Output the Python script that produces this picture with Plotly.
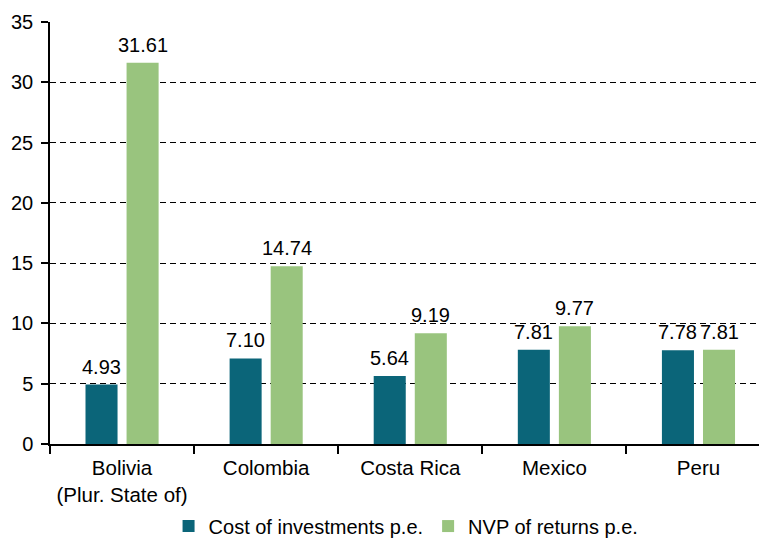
import plotly.graph_objects as go

countries = ["Bolivia<br>(Plur. State of)", "Colombia", "Costa Rica", "Mexico", "Peru"]
cost_investments = [4.93, 7.10, 5.64, 7.81, 7.78]
nvp_returns = [31.61, 14.74, 9.19, 9.77, 7.81]

TEAL = "#0B6579"
GREEN = "#99C47E"
FONT = "Liberation Sans, Arial, sans-serif"
BARGAP = 0.43

fig = go.Figure()
fig.add_trace(go.Bar(
    x=countries, y=cost_investments, name="Cost of investments p.e.",
    marker=dict(color=TEAL, line=dict(width=0)),
))
fig.add_trace(go.Bar(
    x=countries, y=nvp_returns, name="NVP of returns p.e.",
    marker=dict(color=GREEN, line=dict(width=0)),
))

# value labels above the bars (annotations so the text is not shrunk to bar width)
offset = (1 - BARGAP) / 4
for i, (a, b) in enumerate(zip(cost_investments, nvp_returns)):
    for dx, v in ((-offset, a), (offset, b)):
        fig.add_annotation(x=i + dx, y=v, text=f"{v:.2f}", showarrow=False,
                           yanchor="bottom", yshift=5, font=dict(size=20, color="black"))

fig.update_layout(
    width=759, height=539,
    margin=dict(l=50, r=0, t=22, b=95),
    plot_bgcolor="white", paper_bgcolor="white",
    font=dict(family=FONT, size=20, color="black"),
    barmode="group", bargap=BARGAP, bargroupgap=0.22,
    showlegend=True,
    legend=dict(orientation="h", x=0.535, xanchor="center", xref="container",
                y=0.024, yanchor="middle", yref="container",
                font=dict(size=20), traceorder="normal"),
)
fig.update_xaxes(
    range=[-0.5, 4.42], showline=True, linecolor="black", linewidth=1.5,
    ticks="outside", tickson="boundaries", ticklen=8, tickcolor="black", tickwidth=1.5,
    showgrid=False, tickfont=dict(size=20.5), ticklabelstandoff=5,
)
fig.update_yaxes(
    range=[0, 35], dtick=5, showline=True, linecolor="black", linewidth=1.5,
    ticks="outside", ticklen=7, tickcolor="black", tickwidth=1.5,
    showgrid=True, gridcolor="black", griddash="6px,4px", gridwidth=1,
    zeroline=False, tickfont=dict(size=20), ticklabelstandoff=4,
)

fig.write_html("out.html", config={"displayModeBar": False},
               post_script="document.body.style.margin='0';")
